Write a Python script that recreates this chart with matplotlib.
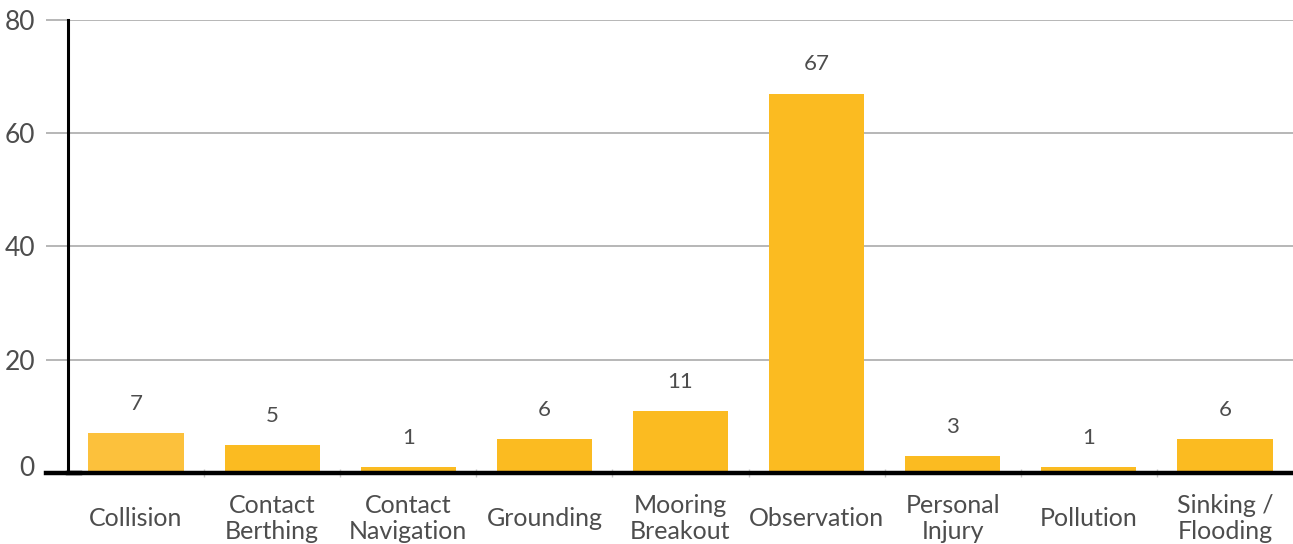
import numpy as np
import matplotlib
matplotlib.use("Agg")
import matplotlib.pyplot as plt
from matplotlib.ticker import FixedLocator
from matplotlib.transforms import ScaledTranslation

plt.rcParams['font.family'] = ['Lato', 'DejaVu Sans']

# incident counts by category
categories = ["Collision", "Contact\nBerthing", "Contact\nNavigation", "Grounding",
              "Mooring\nBreakout", "Observation", "Personal\nInjury", "Pollution",
              "Sinking /\nFlooding"]
counts = [7, 5, 1, 6, 11, 67, 3, 1, 6]
y_ticks = [0, 20, 40, 60, 80]

DPI = 100
W, H = 1293, 544
ax_w = W - 68
fig = plt.figure(figsize=(W / DPI, H / DPI), dpi=DPI)
ax = fig.add_axes([68 / W, 1 - 473 / H, ax_w / W, (473 - 20) / H])

TEXT = "#4d4d4d"
bar_colors = ["#fcc13c"] + ["#fbbb21"] * (len(counts) - 1)
x = np.arange(len(categories))
ax.bar(x, counts, width=0.70, color=bar_colors, zorder=3)

for xi, v in zip(x, counts):
    ax.annotate(str(v), (xi, v), xytext=(0, 21), textcoords="offset points",
                ha="center", va="center", fontsize=16, color=TEXT)

ax.set_xlim(-0.5, len(categories) - 0.5)
ax.set_ylim(0, 80)

# gridlines
for yv in y_ticks[1:]:
    ax.axhline(yv, color="#a3a3a3", lw=1.1, zorder=1)
# baseline runs a little past the y axis on the left
ax.axhline(0, xmin=-22 / ax_w, xmax=0.01, color="black", lw=3.2, clip_on=False, zorder=5)

ax.set_yticks(y_ticks)
ax.set_yticklabels([str(t) for t in y_ticks], fontsize=19, color=TEXT)
ax.tick_params(axis="y", length=15.8, width=1.1, color="#a3a3a3", pad=8)
# lift the "0" label off the baseline
lbl0 = ax.yaxis.get_major_ticks()[0].label1
lbl0.set_transform(lbl0.get_transform() + ScaledTranslation(0, 7 / DPI, fig.dpi_scale_trans))

ax.set_xticks(x)
ax.set_xticklabels(categories, fontsize=18, color=TEXT, va="center", linespacing=1.15)
ax.tick_params(axis="x", which="major", length=0, pad=33)
ax.xaxis.set_minor_locator(FixedLocator(np.arange(0.5, len(categories) - 0.5, 1)))
ax.tick_params(axis="x", which="minor", length=6, width=1, color="#c8c8c8", direction="inout")

for s in ["top", "right"]:
    ax.spines[s].set_visible(False)
ax.spines["left"].set_linewidth(2.2)
ax.spines["left"].set_color("black")
ax.spines["bottom"].set_linewidth(3.2)
ax.spines["bottom"].set_color("black")
ax.spines["bottom"].set_zorder(4)

fig.savefig("out.png", dpi=DPI)
